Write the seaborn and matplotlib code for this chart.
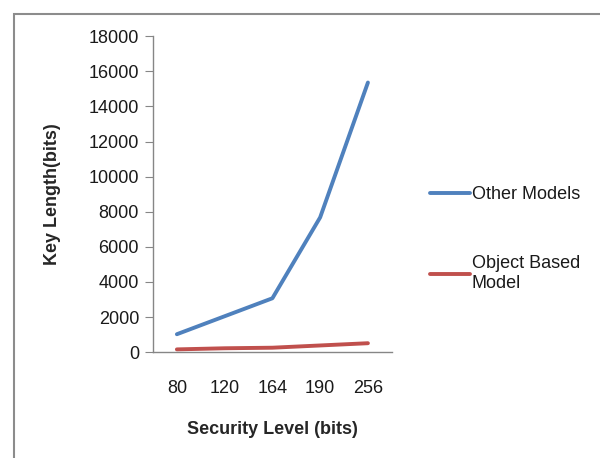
import pandas as pd
import matplotlib
matplotlib.use("Agg")
import matplotlib.pyplot as plt
from matplotlib.patches import Rectangle
import seaborn as sns

# === Data ===
security_levels = ["80", "120", "164", "190", "256"]
other_models = [1024, 2048, 3072, 7680, 15360]
object_based = [160, 224, 256, 384, 512]
series_names = ["Other Models", "Object Based\nModel"]
y_ticks = [0, 2000, 4000, 6000, 8000, 10000, 12000, 14000, 16000, 18000]

# long table for seaborn
df = pd.DataFrame({
    "pos": list(range(len(security_levels))) * 2,
    "key_length": other_models + object_based,
    "series": [series_names[0]] * len(security_levels) + [series_names[1]] * len(security_levels),
})

sns.set_style("white")
plt.rcParams['font.family'] = ['Liberation Sans', 'DejaVu Sans']

fig = plt.figure(figsize=(6, 4.58), dpi=100)
ax = fig.add_axes([0.255, 0.231, 0.398, 0.69])

palette = {series_names[0]: "#4F81BD", series_names[1]: "#C0504D"}
sns.lineplot(data=df, x="pos", y="key_length", hue="series", palette=palette,
             linewidth=2.8, ax=ax, legend=True, solid_capstyle="round")

# axes styling (Excel look)
gray = "#868686"
for side in ["top", "right"]:
    ax.spines[side].set_visible(False)
for side in ["left", "bottom"]:
    ax.spines[side].set_color(gray)
    ax.spines[side].set_linewidth(1.0)

ax.set_xlim(-0.5, len(security_levels) - 0.5)
ax.set_ylim(0, 18000)
ax.set_yticks(y_ticks)
ax.set_yticklabels([str(v) for v in y_ticks], fontsize=13, color="#1a1a1a")
ax.set_xticks(range(len(security_levels)))
ax.set_xticklabels(security_levels, fontsize=13, color="#1a1a1a")
ax.tick_params(axis="x", which="major", length=0, pad=20)
ax.set_xticks([i - 0.5 for i in range(len(security_levels) + 1)], minor=True)
ax.tick_params(axis="x", which="minor", length=6, color=gray, direction="out")
ax.tick_params(axis="y", length=6, color=gray, direction="out", pad=4, left=True)

ax.set_xlabel("Security Level (bits)", fontsize=13, fontweight="bold", labelpad=17)
ax.set_ylabel("Key Length(bits)", fontsize=13, fontweight="bold", labelpad=20)

# legend to the right, no frame
handles, labels = ax.get_legend_handles_labels()
ax.legend(handles, labels, loc="center left", bbox_to_anchor=(0.69, 0.478),
          bbox_transform=fig.transFigure, frameon=False, fontsize=13,
          handlelength=2.2, handletextpad=0.1, labelspacing=2.9, labelcolor="#1a1a1a")

# outer chart-area border (only left and top visible)
fig.patches.append(Rectangle((0.023, -0.2), 1.2, 1.169, transform=fig.transFigure,
                             fill=False, edgecolor="#8c8c8c", linewidth=1.5))

fig.savefig("out.png", dpi=100)
